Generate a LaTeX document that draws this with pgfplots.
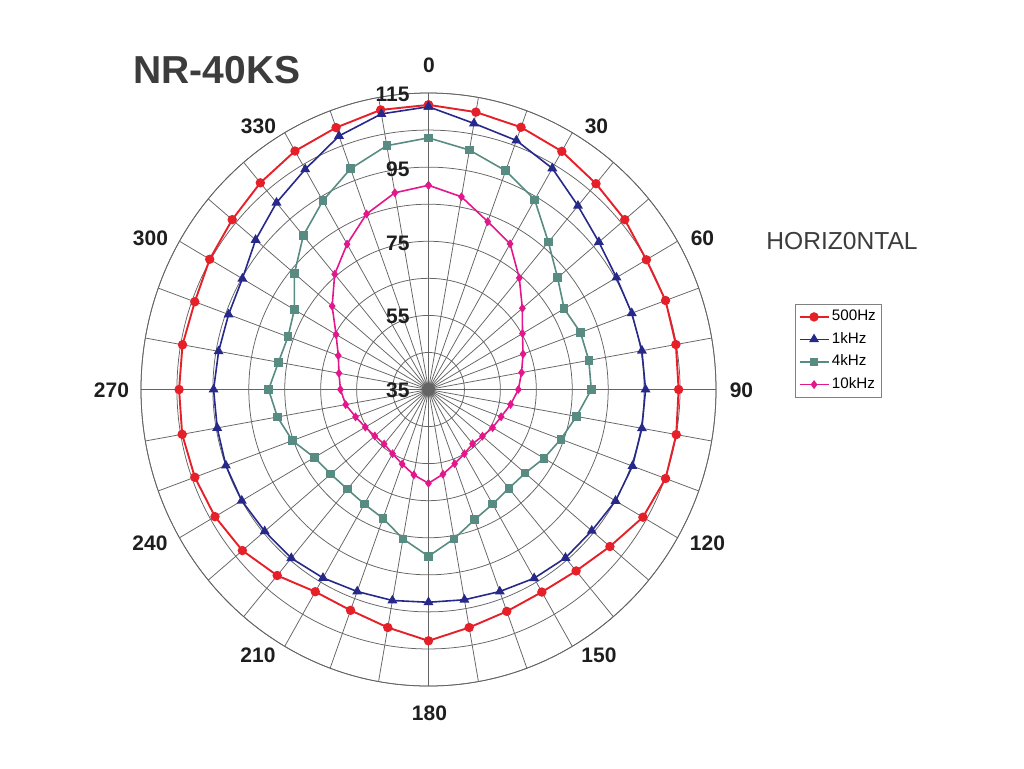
\documentclass[border=0pt]{standalone}
\usepackage{fontspec}
\setmainfont{Liberation Sans}
\usepackage{pgfplots}
\pgfplotsset{compat=1.18}
\usepgfplotslibrary{polar}
\usepackage{pgfplotstable}

\definecolor{cred}{RGB}{230,32,40}
\definecolor{cblue}{RGB}{38,40,138}
\definecolor{cgreen}{RGB}{88,140,130}
\definecolor{cpink}{RGB}{228,22,140}
\definecolor{gridgray}{RGB}{100,100,100}
\definecolor{labgray}{RGB}{30,30,30}
\definecolor{titlegray}{RGB}{60,60,60}

% compass angle (deg, clockwise from top), level (dB)
\pgfplotstableread{
ang r
0 111.8
10 111.0
20 110.3
30 109.2
40 107.5
50 106.3
60 105.0
70 105.2
80 104.9
90 104.6
100 105.0
110 105.2
120 103.9
130 100.9
140 98.9
150 98.1
160 98.7
170 100.2
180 102.8
190 100.2
200 98.4
210 98.0
220 100.5
230 102.6
240 103.6
250 104.2
260 104.6
270 104.4
280 104.5
290 104.2
300 105.3
310 106.3
320 107.8
330 109.3
340 110.2
350 111.6
360 111.8
}\datared

\pgfplotstableread{
ang r
0 111.3
10 107.9
20 106.5
30 103.9
40 99.7
50 96.9
60 95.4
70 95.2
80 95.3
90 95.4
100 95.3
110 95.4
120 95.1
130 94.3
140 94.3
150 93.8
160 93.0
170 92.6
180 92.4
190 92.8
200 93.0
210 93.7
220 94.4
230 94.5
240 95.0
250 95.0
260 94.7
270 94.8
280 94.3
290 94.2
300 94.8
310 97.8
320 100.8
330 103.6
340 107.8
350 110.5
360 111.3
}\datablue

\pgfplotstableread{
ang r
0 102.9
10 100.6
20 97.8
30 94.1
40 86.9
50 81.9
60 78.6
70 80.0
80 80.3
90 80.3
100 76.8
110 74.2
120 72.1
130 70.1
140 69.8
150 70.7
160 72.4
170 75.9
180 80.0
190 75.9
200 72.0
210 70.7
220 70.1
230 70.5
240 71.7
250 75.3
260 77.7
270 79.5
280 77.4
290 76.6
300 78.1
310 83.7
320 89.2
330 93.8
340 98.4
350 101.8
360 102.9
}\datagreen

\pgfplotstableread{
ang r
0 90.1
10 87.8
20 83.2
30 80.4
40 74.3
50 69.1
60 65.2
70 63.0
80 61.3
90 60.0
100 58.2
110 56.5
120 55.6
130 54.6
140 54.1
150 55.0
160 56.3
170 58.2
180 60.3
190 58.4
200 56.4
210 55.0
220 54.2
230 54.5
240 55.3
250 56.6
260 58.4
270 59.5
280 60.3
290 61.7
300 64.7
310 70.0
320 75.6
330 80.3
340 85.4
350 88.9
360 90.1
}\datapink

\begin{document}
\begin{tikzpicture}
\path[use as bounding box] (-214.25pt,-189.25pt) rectangle (297.75pt,194.75pt);
\begin{polaraxis}[
  at={(0pt,0pt)}, anchor=center,
  scale only axis, width=287.5pt, height=296.5pt,
  xmin=0, xmax=360, ymin=0, ymax=80,
  xtick={0,10,...,350}, xticklabels={},
  ytick={10,20,...,80}, yticklabels={},
  grid=major,
  major grid style={draw=gridgray, line width=0.38pt},
  axis line style={draw=gridgray, line width=0.38pt},
  major tick length=0pt,
  clip=false,
  legend style={at={(axis description cs:1.1374,0.644)}, anchor=north west,
    draw=gray, line width=0.4pt, font=\fontsize{7.6}{8.5}\selectfont,
    inner sep=1.6pt, row sep=1.9pt,
    nodes={inner sep=1.2pt},
    /tikz/every even column/.append style={column sep=1.6pt}},
  legend cell align=left,
  legend image code/.code={%
    \draw[mark repeat=2,mark phase=2,#1] plot coordinates {(0pt,0pt) (7.25pt,0pt) (14.5pt,0pt)};},
]
\addplot[cred, line width=0.95pt, mark=*, mark size=1.85pt, mark options={solid, fill=cred}]
  table[x expr={90-\thisrow{ang}}, y expr={\thisrow{r}-35}] {\datared};
\addplot[cblue, line width=0.8pt, mark=triangle*, mark size=2.1pt, mark options={solid, fill=cblue}]
  table[x expr={90-\thisrow{ang}}, y expr={\thisrow{r}-35}] {\datablue};
\addplot[cgreen, line width=0.8pt, mark=square*, mark size=1.75pt, mark options={solid, fill=cgreen}]
  table[x expr={90-\thisrow{ang}}, y expr={\thisrow{r}-35}] {\datagreen};
\addplot[cpink, line width=0.8pt, mark=diamond*, mark size=1.6pt, mark options={solid, fill=cpink}]
  table[x expr={90-\thisrow{ang}}, y expr={\thisrow{r}-35}] {\datapink};
\legend{500Hz,1kHz,4kHz,10kHz}
\end{polaraxis}

% angular labels
\begin{scope}[every node/.style={inner sep=0pt, anchor=center, text=labgray, font=\fontsize{10.5}{12}\selectfont\bfseries}]
\node at (0.25pt,162.25pt) {0};
\node at (84pt,131.5pt) {30};
\node at (137pt,75.75pt) {60};
\node at (156.5pt,-0.25pt) {90};
\node at (139.5pt,-76.75pt) {120};
\node at (85.25pt,-132.75pt) {150};
\node at (0.5pt,-161.75pt) {180};
\node at (-85.25pt,-132.75pt) {210};
\node at (-139.25pt,-76.75pt) {240};
\node at (-158.5pt,-0.5pt) {270};
\node at (-139pt,75.75pt) {300};
\node at (-85pt,131.5pt) {330};
\end{scope}
% radial labels
\begin{scope}[every node/.style={inner sep=0pt, anchor=east, text=labgray, font=\fontsize{10.5}{12}\selectfont\bfseries}]
\node at (-9.25pt,147.75pt) {115};
\node at (-9.25pt,110.25pt) {95};
\node at (-9.25pt,73.1pt) {75};
\node at (-9.25pt,36.4pt) {55};
\node at (-9.25pt,-0.25pt) {35};
\end{scope}
\node[inner sep=0pt, anchor=west, text=titlegray, font=\fontsize{19.5}{22}\selectfont\bfseries] at (-147.75pt,159.75pt) {NR-40KS};
\node[inner sep=0pt, anchor=center, text=titlegray, font=\fontsize{12.3}{14}\selectfont] at (206.75pt,74.25pt) {HORIZ0NTAL};
\end{tikzpicture}
\end{document}
